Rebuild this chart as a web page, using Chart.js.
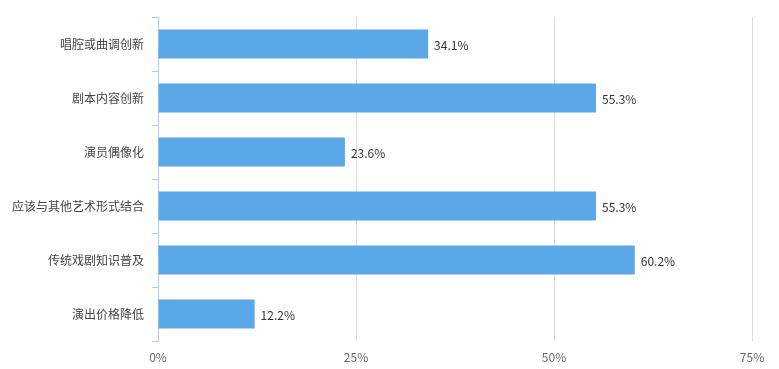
<!DOCTYPE html>
<html>
<head>
<meta charset="utf-8">
<script src="https://cdn.jsdelivr.net/npm/chart.js@4/dist/chart.umd.min.js"></script>
<style>
  html, body { margin: 0; padding: 0; background: #fff; }
  #wrap { width: 779px; height: 369px; }
</style>
</head>
<body>
<div id="wrap"><canvas id="chart"></canvas></div>
<script>
// Categories and percentages
const categories = ['唱腔或曲调创新', '剧本内容创新', '演员偶像化', '应该与其他艺术形式结合', '传统戏剧知识普及', '演出价格降低'];
const percents = [34.1, 55.3, 23.6, 55.3, 60.2, 12.2];
const xTicks = [0, 25, 50, 75];

const FONT = '"Noto Sans CJK SC", "Noto Sans", sans-serif';

// draws the value label just right of each bar
const valueLabels = {
    id: 'valueLabels',
    afterDatasetsDraw(chart) {
        const ctx = chart.ctx;
        const meta = chart.getDatasetMeta(0);
        ctx.save();
        ctx.font = '12px ' + FONT;
        ctx.fillStyle = '#333';
        ctx.textAlign = 'left';
        ctx.textBaseline = 'middle';
        meta.data.forEach((bar, i) => {
            ctx.fillText(percents[i].toFixed(1) + '%', bar.x + 6, bar.y + 1);
        });
        ctx.restore();
    }
};

new Chart(document.getElementById('chart'), {
    type: 'bar',
    data: {
        labels: categories,
        datasets: [{
            data: percents,
            backgroundColor: '#5ba8e9',
            categoryPercentage: 1,
            barPercentage: 0.54
        }]
    },
    options: {
        indexAxis: 'y',
        responsive: true,
        maintainAspectRatio: false,
        animation: false,
        layout: { padding: { top: 17, right: 27, left: 0, bottom: 0 } },
        plugins: {
            legend: { display: false },
            tooltip: { enabled: false }
        },
        scales: {
            x: {
                min: 0,
                max: 75,
                afterBuildTicks: scale => { scale.ticks = xTicks.map(v => ({ value: v })); },
                afterFit: scale => { scale.height = 28; },
                border: { display: false },
                grid: { color: '#dcdcdc', drawTicks: false },
                ticks: {
                    padding: 9,
                    color: '#666',
                    font: { family: FONT, size: 12 },
                    callback: v => v + '%'
                }
            },
            y: {
                afterFit: scale => { scale.width = 158; },
                border: { display: true, color: '#b9cbe0' },
                grid: { drawOnChartArea: false, color: '#b9cbe0', tickLength: 6, offset: true },
                ticks: {
                    padding: 8,
                    color: '#444',
                    font: { family: FONT, size: 12 }
                }
            }
        }
    },
    plugins: [valueLabels]
});
</script>
</body>
</html>
